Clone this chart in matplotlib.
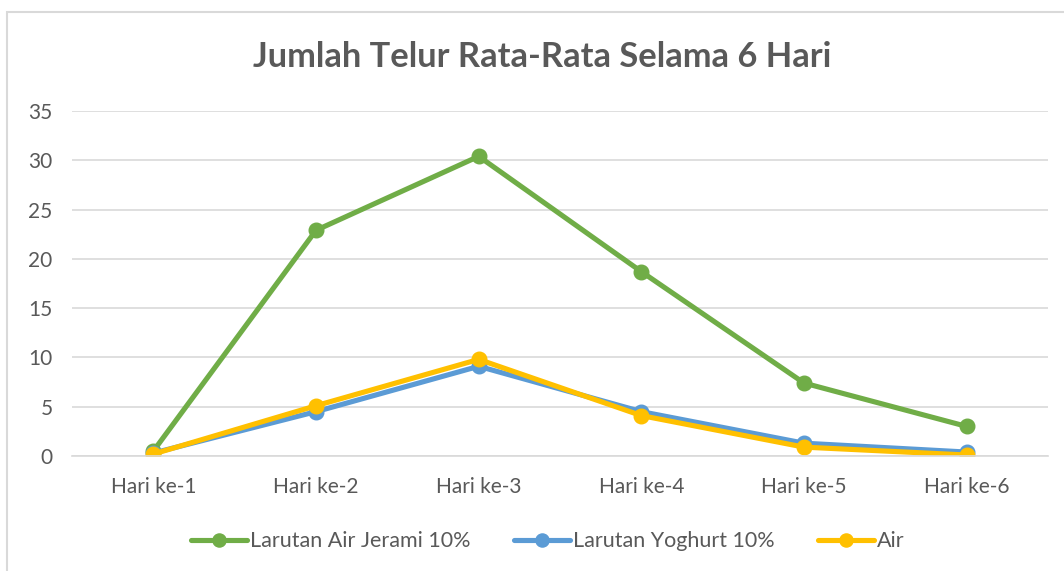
import matplotlib
matplotlib.use('Agg')
import matplotlib.pyplot as plt
from matplotlib.patches import Rectangle

days = ['Hari ke-1', 'Hari ke-2', 'Hari ke-3', 'Hari ke-4', 'Hari ke-5', 'Hari ke-6']
jerami = [0.5, 22.9, 30.4, 18.7, 7.4, 3.0]
yoghurt = [0.3, 4.5, 9.1, 4.5, 1.3, 0.4]
air = [0.2, 5.1, 9.8, 4.1, 0.9, 0.1]

series_names = ['Larutan Air Jerami 10%', 'Larutan Yoghurt 10%', 'Air']
series_colors = ['#70AD47', '#5B9BD5', '#FFC000']

plt.rcParams['font.family'] = ['Lato', 'DejaVu Sans']
TEXT = '#595959'

fig = plt.figure(figsize=(10.64, 5.71), dpi=100)
ax = fig.add_axes([0.0677, 0.2014, 0.9173, 0.6042])

# chart border like the office chart frame
fig.patches.append(Rectangle((7 / 1064, -0.01), 1.02, 1 - 12 / 571 + 0.01,
                             transform=fig.transFigure, fill=False,
                             edgecolor='#d9d9d9', linewidth=1.5))

x = list(range(len(days)))
for vals, name, col in zip([jerami, yoghurt, air], series_names, series_colors):
    ax.plot(x, vals, color=col, linewidth=3.7, marker='o', markersize=10.5,
            label=name, solid_capstyle='round')

ax.set_xlim(-0.5, len(days) - 0.5)
ax.set_ylim(0, 35)
ax.set_yticks(range(0, 36, 5))
ax.set_xticks(x)
ax.set_xticklabels(days)
ax.tick_params(length=0, labelsize=15, colors=TEXT, pad=15)
ax.tick_params(axis='y', pad=14)
ax.grid(axis='y', color='#d9d9d9', linewidth=1.2)
ax.set_axisbelow(True)
for s in ax.spines.values():
    s.set_visible(False)
ax.spines['bottom'].set_visible(True)
ax.spines['bottom'].set_color('#d9d9d9')
ax.spines['bottom'].set_linewidth(1.2)

fig.text(0.51, 0.9, 'Jumlah Telur Rata-Rata Selama 6 Hari', ha='center', va='center',
         fontsize=24.8, fontweight='bold', color=TEXT)

fig.legend(loc='center', bbox_to_anchor=(0.515, 0.052), ncol=3, frameon=False,
           fontsize=15.5, labelcolor=TEXT, handlelength=2.6, handletextpad=0.15,
           columnspacing=2.0, markerscale=0.9)

fig.savefig('out.png', dpi=100)
